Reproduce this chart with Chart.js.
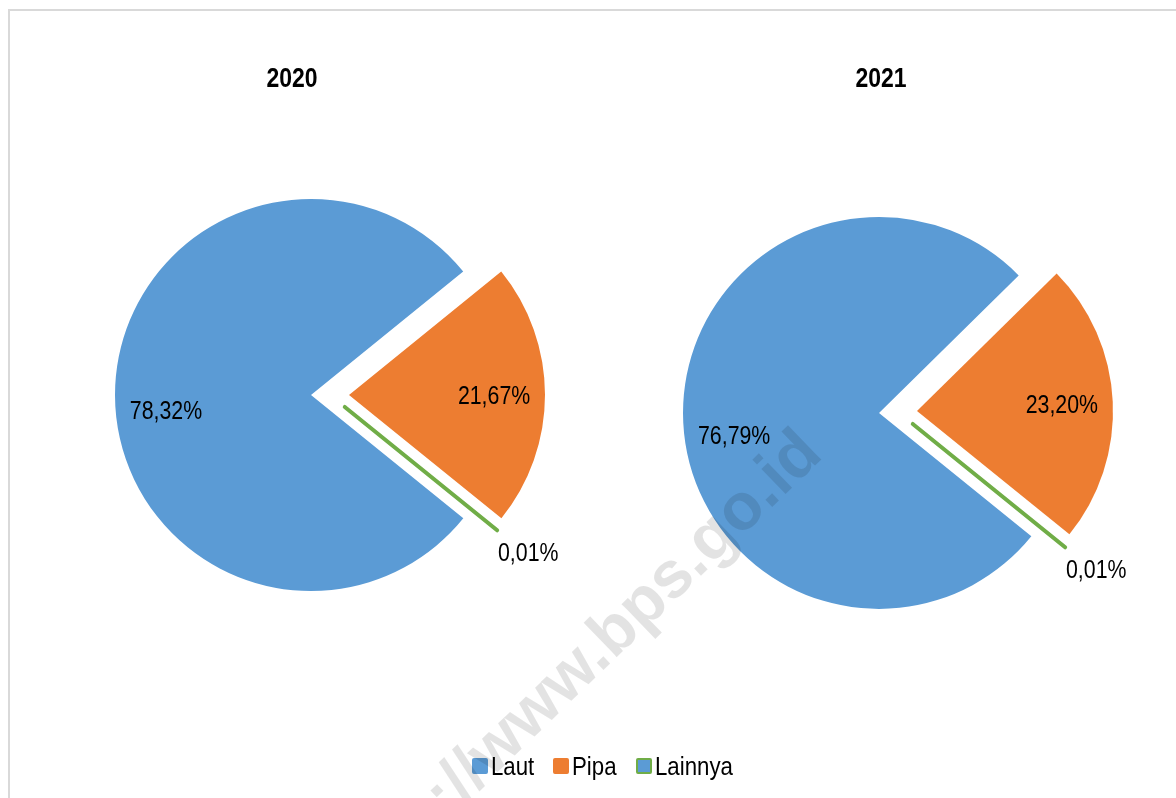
<!DOCTYPE html>
<html lang="id">
<head>
<meta charset="utf-8">
<title>Laut, Pipa, Lainnya 2020-2021</title>
<script src="https://cdn.jsdelivr.net/npm/chart.js@4.4.1/dist/chart.umd.min.js"></script>
<style>
    html, body { margin: 0; padding: 0; background: #fff; }
    body { position: relative; width: 1176px; height: 798px; overflow: hidden; font-family: "Liberation Sans", Arial, sans-serif; }
    #frame { position: absolute; left: 8px; top: 9px; width: 1400px; height: 1000px; border: 2px solid #d9d9d9; }
    .pie-box { position: absolute; }
    .year { position: absolute; top: 61px; font-size: 28px; font-weight: bold; line-height: 34px; color: #000; white-space: nowrap; transform: translateX(-50%) scaleX(0.82); }
    #legend { position: absolute; left: 472px; top: 752px; height: 28px; display: flex; align-items: center; }
    #legend .item { display: flex; align-items: center; margin-right: 19px; }
    #legend .item:last-child { margin-right: 0; }
    #legend .swatch { width: 16px; height: 16px; box-sizing: border-box; border: 2px solid; border-radius: 2px; margin-right: 3px; }
    #legend .text { display: inline-block; font-size: 25px; line-height: 28px; color: #000; white-space: nowrap; transform: scaleX(0.89); transform-origin: 0 50%; }
    #watermark { position: absolute; right: 368px; top: 402px; font-size: 66px; font-weight: bold; line-height: 76px; color: rgba(0, 0, 0, 0.11); white-space: nowrap; transform: rotate(-44deg); transform-origin: 100% 50%; pointer-events: none; }
</style>
</head>
<body>
<div id="frame"></div>
<div class="pie-box" style="left:0;top:0;width:660px;height:790px"><canvas id="pie2020"></canvas></div>
<div class="pie-box" style="left:620px;top:26px;width:556px;height:772px"><canvas id="pie2021"></canvas></div>
<div class="year" id="title2020" style="left:292px"></div>
<div class="year" id="title2021" style="left:881px"></div>
<div id="legend"></div>
<div id="watermark">http://www.bps.go.id</div>
<script>
const categories = ['Laut', 'Pipa', 'Lainnya'];
const years = ['2020', '2021'];
const share2020 = [78.32, 21.67, 0.01];
const share2021 = [76.79, 23.20, 0.01];

const fillColors = ['#5b9bd5', '#ed7d31', '#5b9bd5'];
const edgeColors = ['#5b9bd5', '#ed7d31', '#70ad47'];
const edgeWidths = [0, 0, 4];

// Excel style explode: slide the slice out, don't grow it
const arcDraw = Chart.ArcElement.prototype.draw;
Chart.ArcElement.prototype.draw = function (ctx) {
    const opts = this.options;
    const shift = opts.offset || 0;
    const mid = (this.startAngle + this.endAngle) / 2;
    this.options = Object.assign(Object.create(opts), {offset: 0});
    ctx.save();
    ctx.translate(Math.cos(mid) * shift, Math.sin(mid) * shift);
    arcDraw.call(this, ctx);
    ctx.restore();
    this.options = opts;
};

const sliceLabels = {
    id: 'sliceLabels',
    afterDatasetsDraw(chart, args, opts) {
        const ctx = chart.ctx;
        const meta = chart.getDatasetMeta(0);
        const values = chart.data.datasets[0].data;
        ctx.save();
        ctx.font = '26px "Liberation Sans", Arial, sans-serif';
        ctx.fillStyle = '#000';
        ctx.textAlign = 'center';
        ctx.textBaseline = 'middle';
        meta.data.forEach((arc, i) => {
            const mid = (arc.startAngle + arc.endAngle) / 2;
            const shift = arc.options.offset || 0;
            // tiny slices get their label outside
            const dist = values[i] < 1 ? arc.outerRadius + 40 : arc.outerRadius * 0.74;
            const x = arc.x + Math.cos(mid) * (shift + dist);
            const y = arc.y + Math.sin(mid) * (shift + dist) + opts.nudge[i];
            ctx.save();
            ctx.translate(x, y);
            ctx.scale(0.82, 1);
            ctx.fillText(values[i].toFixed(2).replace('.', ',') + '%', 0, 0);
            ctx.restore();
        });
        ctx.restore();
    }
};

function drawPie(canvasId, values) {
    return new Chart(document.getElementById(canvasId), {
        type: 'pie',
        data: {
            labels: categories,
            datasets: [{
                data: values,
                backgroundColor: fillColors,
                borderColor: edgeColors,
                borderWidth: edgeWidths,
                borderJoinStyle: 'round',
                offset: 19,
                radius: 196
            }]
        },
        options: {
            responsive: true,
            maintainAspectRatio: false,
            animation: false,
            rotation: 129,
            events: [],
            layout: { padding: 0 },
            plugins: {
                legend: { display: false },
                tooltip: { enabled: false },
                sliceLabels: { nudge: [17, 2, -2] }
            }
        },
        plugins: [sliceLabels]
    });
}

document.getElementById('title2020').textContent = years[0];
document.getElementById('title2021').textContent = years[1];

drawPie('pie2020', share2020);
drawPie('pie2021', share2021);

// shared legend
const legendBox = document.getElementById('legend');
categories.forEach((name, i) => {
    const item = document.createElement('div');
    item.className = 'item';
    const swatch = document.createElement('span');
    swatch.className = 'swatch';
    swatch.style.background = fillColors[i];
    swatch.style.borderColor = edgeColors[i];
    const text = document.createElement('span');
    text.className = 'text';
    text.textContent = name;
    item.appendChild(swatch);
    item.appendChild(text);
    legendBox.appendChild(item);
    text.style.marginRight = (-text.offsetWidth * 0.11) + 'px';
});
</script>
</body>
</html>
